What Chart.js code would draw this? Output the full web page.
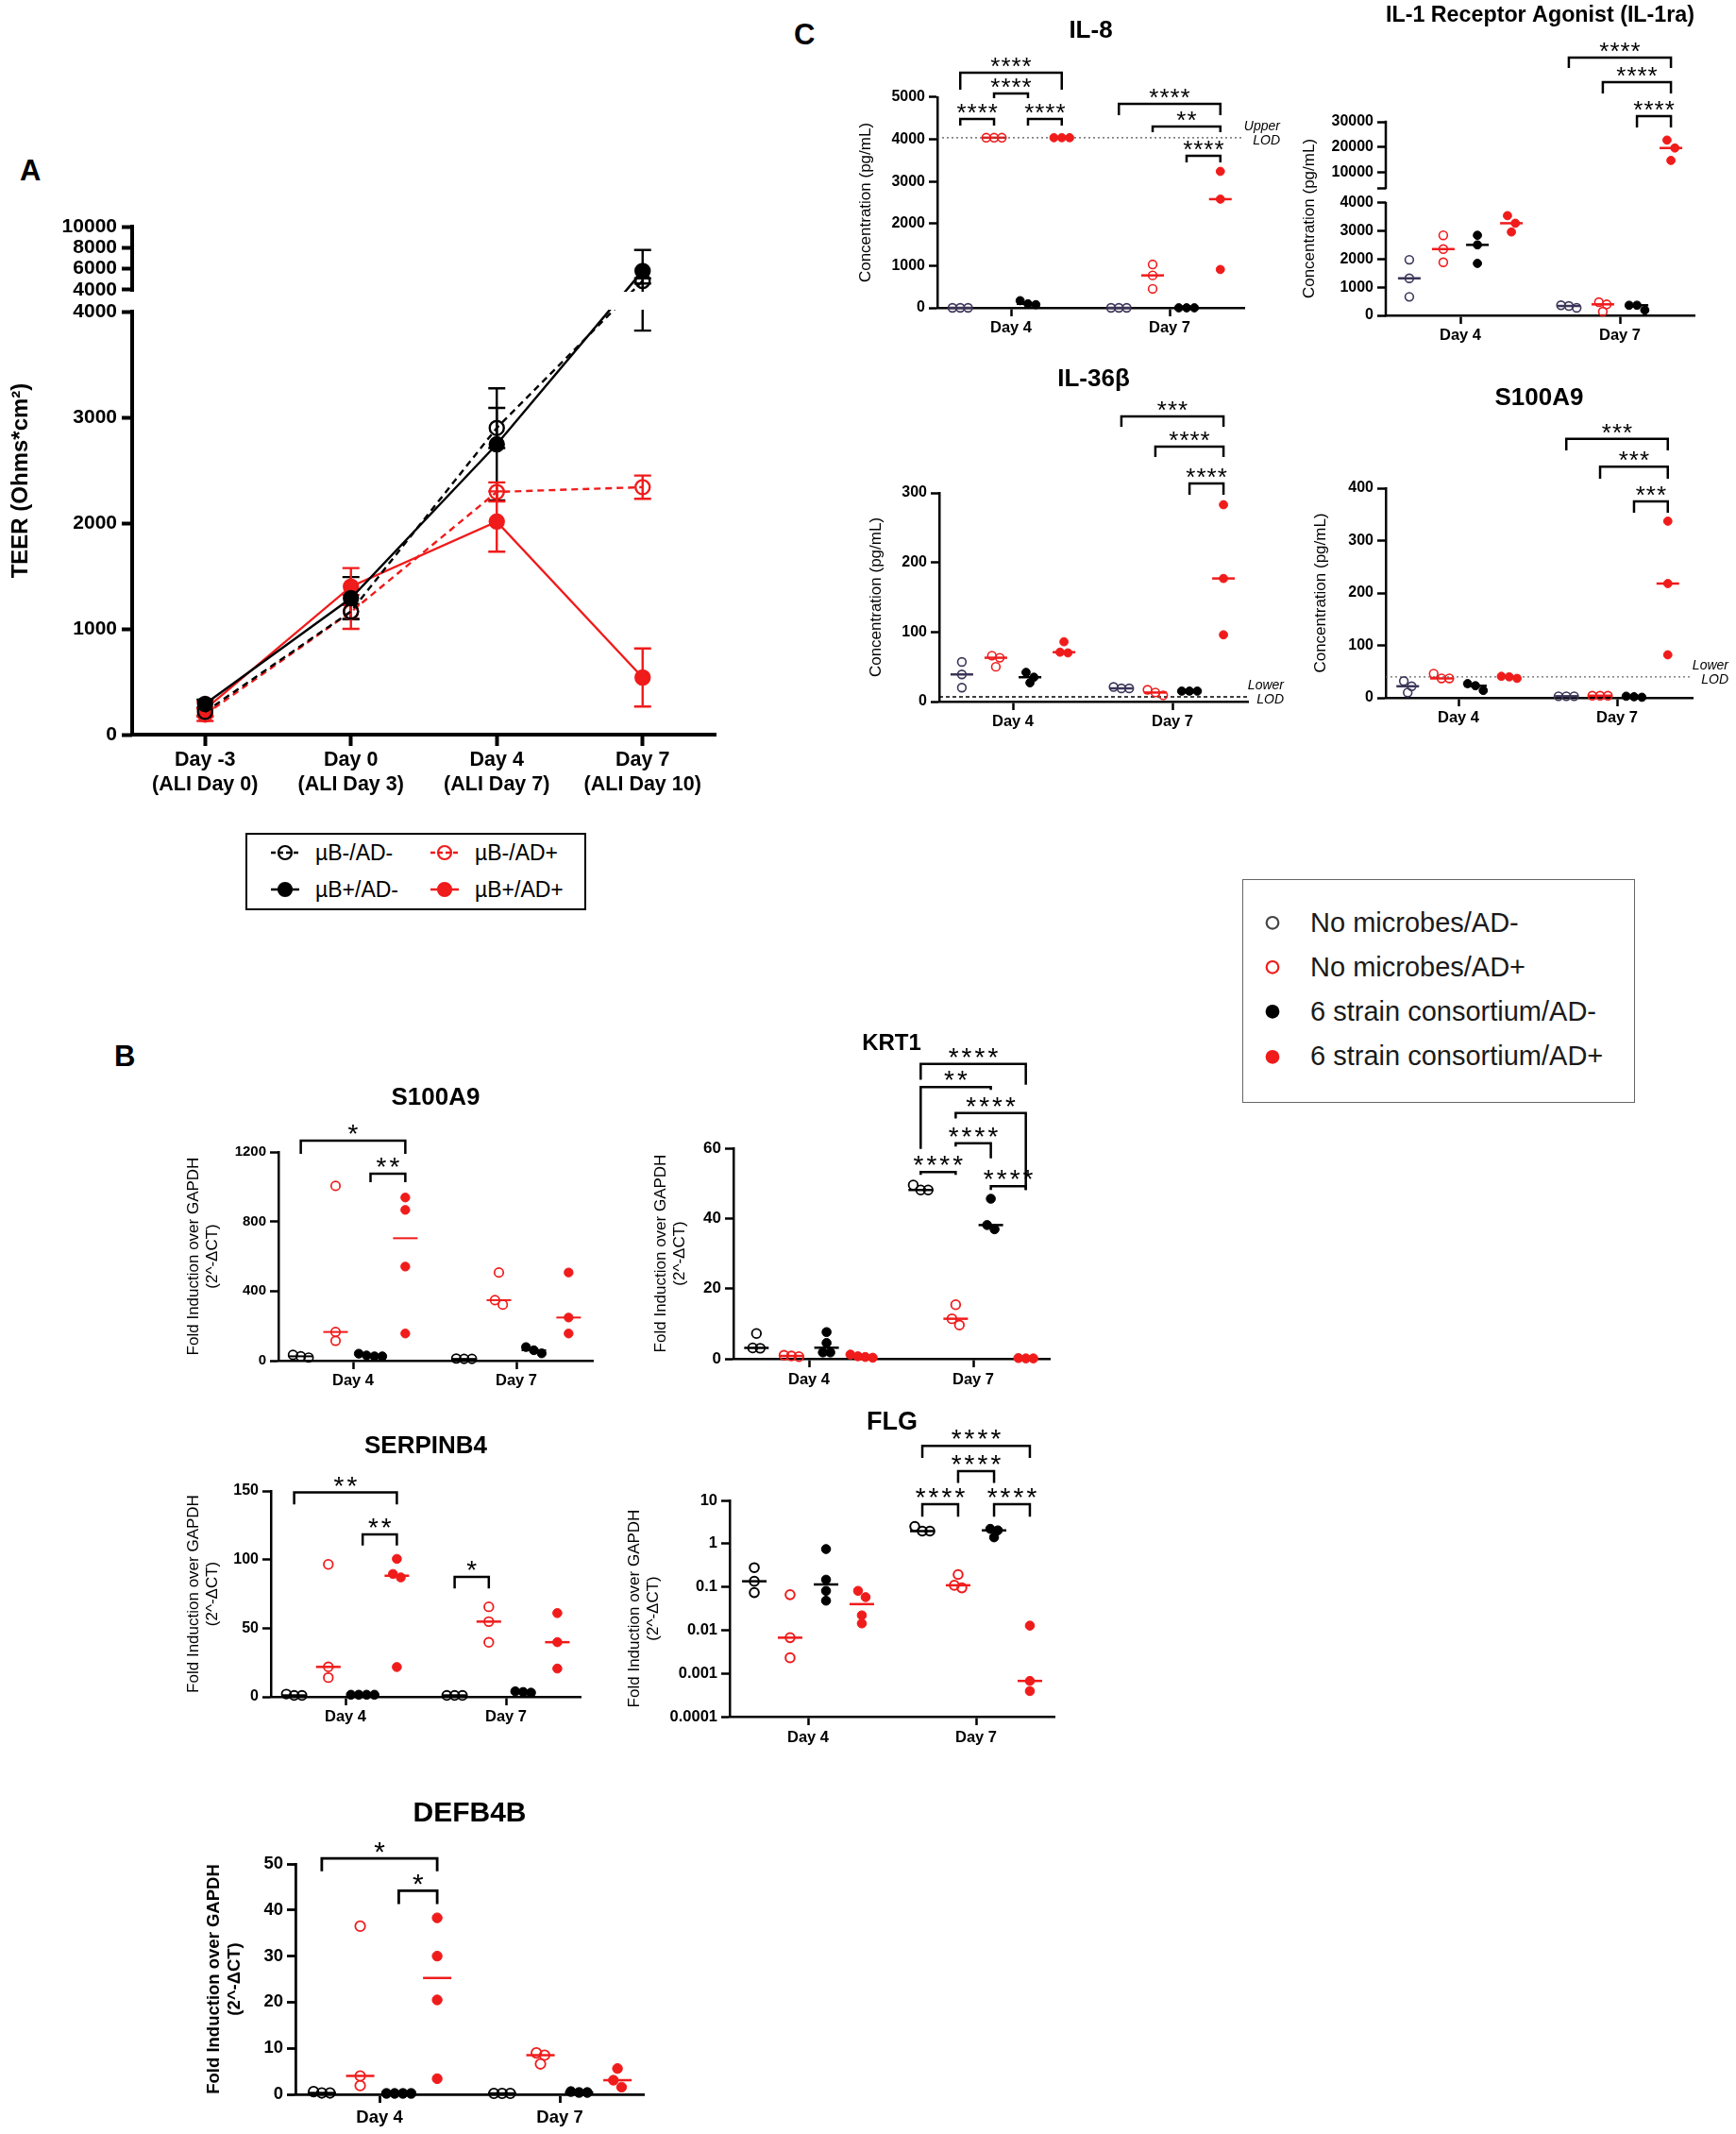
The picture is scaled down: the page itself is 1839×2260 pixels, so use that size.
<!DOCTYPE html>
<html>
<head>
<meta charset="utf-8">
<title>TEER, gene expression and secreted proteins</title>
<script src="https://cdn.jsdelivr.net/npm/chart.js@4.4.1/dist/chart.umd.min.js"></script>
<style>
  html, body { margin: 0; padding: 0; background: #fff; }
  body { position: relative; width: 1839px; height: 2260px; overflow: hidden;
         font-family: "Liberation Sans", Arial, Helvetica, sans-serif; color: #000; }
  canvas { position: absolute; }
  .panel { position: absolute; font-weight: bold; font-size: 31px; line-height: 1; }
  .legend { position: absolute; box-sizing: border-box; }
  .legend .row { position: absolute; display: flex; align-items: center; white-space: nowrap; }
  .legend svg { display: block; flex: none; }
</style>
</head>
<body>
<div class="panel" style="left:21px;top:165px">A</div>
<div class="panel" style="left:121px;top:1103px">B</div>
<div class="panel" style="left:841px;top:21px">C</div>
<div class="legend" id="legendA" style="left:260px;top:882px;width:361px;height:82px;border:2px solid #000;"></div>
<div class="legend" id="legendC" style="left:1316px;top:931px;width:416px;height:237px;border:1.5px solid #666;"></div>
<script>
// ---------- panel A: TEER ----------
const TEER_DAYS = [['Day -3', '(ALI Day 0)'], ['Day 0', '(ALI Day 3)'], ['Day 4', '(ALI Day 7)'], ['Day 7', '(ALI Day 10)']];
const TEER_SERIES = ['µB-/AD-', 'µB+/AD-', 'µB-/AD+', 'µB+/AD+'];
const TEER_NEG_NEG = [215, 1165, 2900, 4850];
const TEER_NEG_NEG_SD = [40, 70, 190, 250];
const TEER_POS_NEG = [290, 1290, 2745, 5800];
const TEER_POS_NEG_SD = [40, 200, 530, 1980];
const TEER_NEG_POS = [190, 1160, 2295, 2340];
const TEER_NEG_POS_SD = [60, 160, 90, 110];
const TEER_POS_POS = [240, 1400, 2015, 540];
const TEER_POS_POS_SD = [70, 175, 285, 275];
const TEER_TICKS = [0, 1000, 2000, 3000, 4000, 4000.001, 6000, 8000, 10000];
const TEER_TICK_LABELS = ['0', '1000', '2000', '3000', '4000', '4000', '6000', '8000', '10000'];

// ---------- panels B and C ----------
const DAYS = ['Day 4', 'Day 7'];
const GROUPS = ['No microbes/AD-', 'No microbes/AD+', '6 strain consortium/AD-', '6 strain consortium/AD+'];

// C: secreted proteins (pg/mL), one list per group
const IL8_D4 = [[0, 0, 0], [4040, 4040, 4040], [75, 170, 95], [4040, 4040, 4040]];
const IL8_D7 = [[0, 0, 0], [1030, 770, 450], [0, 0, 0], [3240, 2580, 910]];
const IL8_TICKS = [0, 1000, 2000, 3000, 4000, 5000];
const IL8_UPPER_LOD = 4040;
const IL8_SIG = [
  [0, 0, 3, 5583, 5179, 5179, '****'],
  [0, 1, 2, 5090, 4978, 4978, '****'],
  [0, 0, 1, 4484, 4327, 4327, '****'],
  [0, 2, 3, 4484, 4327, 4327, '****'],
  [1, 0, 3, 4843, 4574, 4574, '****'],
  [1, 1, 3, 4305, 4170, 4170, '**'],
  [1, 2, 3, 3610, 3453, 3453, '****']
];

const IL1RA_D4 = [[1980, 1320, 660], [2850, 2360, 1890], [2850, 2510, 1850], [3550, 3280, 2970]];
const IL1RA_D7 = [[270, 360, 335], [470, 393, 134], [190, 360, 360], [22800, 19700, 14800]];
const IL1RA_TICKS = [0, 1000, 2000, 3000, 4000, 4000.001, 10000, 20000, 30000];
const IL1RA_TICK_LABELS = ['0', '1000', '2000', '3000', '4000', '', '10000', '20000', '30000'];
const IL1RA_SIG = [
  [1, 0, 3, 55257, 51171, 51171, '****'],
  [1, 1, 3, 45600, 41143, 41143, '****'],
  [1, 2, 3, 32229, 27771, 27771, '****']
];

const IL36B_D4 = [[57, 39, 20], [66, 63, 50], [42, 35, 27], [86, 70, 71]];
const IL36B_D7 = [[19, 21, 19], [9, 17, 13], [15, 15, 15], [283, 177, 96]];
const IL36B_TICKS = [0, 100, 200, 300];
const IL36B_LOWER_LOD = 6.8;
const IL36B_SIG = [
  [1, 0, 3, 410, 395, 395, '***'],
  [1, 1, 3, 366.5, 351.6, 351.6, '****'],
  [1, 2, 3, 313.6, 297.3, 297.3, '****']
];

const S100A9_PROT_D4 = [[32, 22, 10], [46, 37, 37], [14, 27, 23], [37, 41, 40]];
const S100A9_PROT_D7 = [[3, 3, 3], [4, 4, 4], [1, 3, 2], [337, 218, 82]];
const S100A9_PROT_TICKS = [0, 100, 200, 300, 400];
const S100A9_PROT_LOWER_LOD = 40;
const S100A9_PROT_SIG = [
  [1, 0, 3, 494, 472, 472, '***'],
  [1, 1, 3, 441, 418, 418, '***'],
  [1, 2, 3, 375, 353, 353, '***']
];

// B: gene expression, fold induction over GAPDH
const S100A9_MRNA_D4 = [[18, 33, 25], [1005, 165, 114], [25, 40, 25, 30], [938, 867, 541, 156]];
const S100A9_MRNA_D7 = [[10, 12, 10], [507, 322, 348], [42, 78, 60], [507, 248, 156]];
const S100A9_MRNA_TICKS = [0, 400, 800, 1200];
const S100A9_MRNA_SIG = [
  [0, 0, 3, 1265, 1189, 1189, '*'],
  [0, 2, 3, 1075, 1026, 1026, '**']
];

const KRT1_D4 = [[7.2, 3, 3.1], [0.8, 1.0, 0.6], [7.6, 4.5, 1.8, 1.8], [0.3, 1.2, 0.5, 0.7]];
const KRT1_D7 = [[48.1, 49.5, 48.1], [15.4, 9.6, 11.4], [45.6, 36.9, 38.1], [0.1, 0.2, 0.1]];
const KRT1_TICKS = [0, 20, 40, 60];
const KRT1_SIG = [
  [1, 0, 3, 84.0, 79.5, 78.1, '****'],
  [1, 0, 2, 77.4, 59.8, 76.6, '**'],
  [1, 1, 3, 70.0, 68.5, 48.1, '****'],
  [1, 1, 2, 61.4, 60.5, 57.1, '****'],
  [1, 0, 1, 53.2, 52.4, 52.4, '****'],
  [1, 2, 3, 49.2, 48.1, 48.1, '****']
];

const SERPINB4_D4 = [[1, 2, 1], [96.5, 21.8, 14], [1.5, 1.5, 1.5, 1.5], [100.5, 89.5, 87, 21.7]];
const SERPINB4_D7 = [[1, 1, 1], [65.6, 54.8, 39.7], [3, 4, 3.5], [61, 39.8, 20.6]];
const SERPINB4_TICKS = [0, 50, 100, 150];
const SERPINB4_SIG = [
  [0, 0, 3, 148.9, 140.2, 140.2, '**'],
  [0, 2, 3, 118.4, 110.3, 110.3, '**'],
  [1, 0, 1, 87.4, 78.9, 78.9, '*']
];

const FLG_D4 = [[0.279, 0.135, 0.074], [0.066, 0.0067, 0.0023], [0.75, 0.147, 0.081, 0.048], [0.081, 0.058, 0.022, 0.0143]];
const FLG_D7 = [[1.95, 2.5, 1.95], [0.193, 0.095, 0.109], [1.4, 2.2, 2.03], [0.0127, 0.00067, 0.00039]];
const FLG_TICKS = [0.0001, 0.001, 0.01, 0.1, 1, 10];
const FLG_TICK_LABELS = ['0.0001', '0.001', '0.01', '0.1', '1', '10'];
const FLG_SIG = [
  [1, 0, 3, 182, 96.6, 96.6, '****'],
  [1, 1, 2, 47.7, 25.2, 25.2, '****'],
  [1, 0, 1, 8.2, 4.2, 4.2, '****'],
  [1, 2, 3, 8.2, 4.2, 4.2, '****']
];

const DEFB4B_D4 = [[0.3, 0.6, 0.3], [36.5, 4.0, 1.9], [0.2, 0.2, 0.2, 0.2], [38.3, 30.0, 20.5, 3.4]];
const DEFB4B_D7 = [[0.2, 0.2, 0.2], [9.0, 8.5, 6.6], [0.4, 0.6, 0.4], [5.6, 3.07, 1.57]];
const DEFB4B_TICKS = [0, 10, 20, 30, 40, 50];
const DEFB4B_SIG = [
  [0, 0, 3, 51.2, 48.4, 48.4, '*'],
  [0, 2, 3, 44.2, 41.3, 41.3, '*']
];

// ---------- styling ----------
const FONT = '"Liberation Sans", Arial, Helvetica, sans-serif';
Chart.defaults.font.family = FONT;
Chart.defaults.color = '#000';

const RED = '#f01b1b';
const NAVY = '#3c3558';
const BLACK = '#000000';
const C_COLORS = [NAVY, RED, BLACK, RED];
const B_COLORS = [BLACK, RED, BLACK, RED];
const GROUP_OFFSET = [-0.32, -0.107, 0.107, 0.32];
const FOLD_TITLE = ['Fold Induction over GAPDH', '(2^-ΔCT)'];
const CONC_TITLE = 'Concentration (pg/mL)';

const TEER_STYLE = [
  { color: BLACK, open: true, dash: [7, 5] },
  { color: BLACK, open: false, dash: [] },
  { color: RED, open: true, dash: [7, 5] },
  { color: RED, open: false, dash: [] }
];

// y scale with a break: two linear pieces stacked on one axis
class BrokenLinearScale extends Chart.LinearScale {
  static id = 'brokenLinear';
  buildTicks() {
    return this.options.tickValues.map(v => ({ value: v }));
  }
  getPixelForValue(v) {
    if (v === null || v === undefined || isNaN(v)) return NaN;
    const segs = this.options.segments;
    const s = v <= segs[0].to ? segs[0] : segs[1];
    return this.getPixelForDecimal(s.f0 + (v - s.from) / (s.to - s.from) * (s.f1 - s.f0));
  }
  getValueForPixel(p) {
    const d = this.getDecimalForPixel(p);
    const segs = this.options.segments;
    const s = d <= segs[0].f1 ? segs[0] : segs[1];
    return s.from + (d - s.f0) / (s.f1 - s.f0) * (s.to - s.from);
  }
}
Chart.register(BrokenLinearScale);

function median(vals) {
  const s = [...vals].sort((a, b) => a - b);
  const m = Math.floor(s.length / 2);
  return s.length % 2 ? s[m] : (s[m - 1] + s[m]) / 2;
}

function addCanvas(left, top, width, height) {
  const c = document.createElement('canvas');
  c.width = width; c.height = height;
  c.style.left = left + 'px'; c.style.top = top + 'px';
  c.style.width = width + 'px'; c.style.height = height + 'px';
  document.body.appendChild(c);
  return c;
}

function brokenAxisPlugin(lo, hi, width) {
  return {
    id: 'brokenAxis',
    afterDatasetsDraw(chart) {
      const { ctx, chartArea: a, scales: { y } } = chart;
      const yLo = y.getPixelForValue(lo);
      const yHi = y.getPixelForValue(hi);
      ctx.save();
      ctx.fillStyle = '#fff';
      ctx.fillRect(a.left + width, yHi + 2, a.right - a.left, yLo - yHi - 4);
      ctx.strokeStyle = '#000';
      ctx.lineWidth = width;
      ctx.beginPath();
      ctx.moveTo(a.left, a.bottom + width / 2); ctx.lineTo(a.left, yLo - width / 2);
      ctx.moveTo(a.left, yHi + width / 2); ctx.lineTo(a.left, a.top - width / 2);
      ctx.stroke();
      ctx.restore();
    }
  };
}

function medianPlugin(o) {
  return {
    id: 'medianLines',
    beforeDatasetsDraw(chart) {
      const { ctx, scales: { x, y } } = chart;
      ctx.save();
      ctx.lineWidth = o.medianW;
      chart.data.datasets.forEach(ds => {
        const cx = x.getPixelForValue(ds.center);
        const py = y.getPixelForValue(ds.median);
        ctx.strokeStyle = ds.color;
        ctx.beginPath();
        ctx.moveTo(cx - o.medianHalf, py);
        ctx.lineTo(cx + o.medianHalf, py);
        ctx.stroke();
      });
      ctx.restore();
    }
  };
}

function bracketPlugin(o) {
  return {
    id: 'sigBrackets',
    afterDatasetsDraw(chart) {
      const { ctx, scales: { x, y } } = chart;
      ctx.save();
      ctx.strokeStyle = '#000'; ctx.fillStyle = '#000';
      ctx.lineWidth = o.axisW; ctx.lineJoin = 'miter'; ctx.lineCap = 'butt';
      ctx.font = o.starSize + 'px ' + FONT;
      ctx.letterSpacing = o.starGap + 'px';
      ctx.textAlign = 'center'; ctx.textBaseline = 'alphabetic';
      o.sig.forEach(([day, g1, g2, top, legL, legR, stars]) => {
        const x1 = x.getPixelForValue(day + GROUP_OFFSET[g1]);
        const x2 = x.getPixelForValue(day + GROUP_OFFSET[g2]);
        const yt = y.getPixelForValue(top);
        ctx.beginPath();
        ctx.moveTo(x1, y.getPixelForValue(legL));
        ctx.lineTo(x1, yt); ctx.lineTo(x2, yt);
        ctx.lineTo(x2, y.getPixelForValue(legR));
        ctx.stroke();
        const m = ctx.measureText(stars);
        const base = yt - o.starLift + (m.actualBoundingBoxAscent - m.actualBoundingBoxDescent) / 2;
        ctx.fillText(stars, (x1 + x2) / 2 + o.starGap / 2, base);
      });
      ctx.restore();
    }
  };
}

function lodPlugin(o) {
  return {
    id: 'lodLine',
    beforeDatasetsDraw(chart) {
      if (!o.lod) return;
      const { ctx, chartArea: a, scales: { y } } = chart;
      const py = y.getPixelForValue(o.lod.value);
      ctx.save();
      ctx.strokeStyle = o.lod.color; ctx.lineWidth = 1.3; ctx.setLineDash(o.lod.dash);
      ctx.beginPath(); ctx.moveTo(a.left, py); ctx.lineTo(a.right, py); ctx.stroke();
      ctx.setLineDash([]);
      ctx.fillStyle = '#000';
      ctx.font = 'italic 14px ' + FONT;
      ctx.textAlign = 'right'; ctx.textBaseline = 'middle';
      ctx.fillText(o.lod.words[0], a.right + 38, py - 12);
      ctx.fillText(o.lod.words[1], a.right + 38, py + 3);
      ctx.restore();
    }
  };
}

// spread points of one group sideways when they sit on top of each other
function spreadPoints(chart, spacing) {
  const { x, y } = chart.scales;
  chart.data.datasets.forEach(ds => {
    const cx = x.getPixelForValue(ds.center);
    const pts = ds.data.map(p => ({ p, py: y.getPixelForValue(p.y) })).sort((a, b) => a.py - b.py);
    const rows = [];
    pts.forEach(q => {
      const row = rows[rows.length - 1];
      if (row && q.py - row[0].py < spacing * 1.05) row.push(q); else rows.push([q]);
    });
    rows.forEach(row => row.forEach((q, i) => {
      q.p.x = x.getValueForPixel(cx + (i - (row.length - 1) / 2) * spacing);
    }));
  });
  chart.update('none');
}

function yScaleOptions(o, yW) {
  const base = {
    afterFit: s => { s.width = yW; },
    ticks: {
      font: { size: o.tickSize, weight: 'bold' }, color: '#000', padding: 4, autoSkip: false,
      callback: (v, i) => o.tickLabels ? o.tickLabels[i] : String(v)
    },
    grid: { drawOnChartArea: false, tickLength: o.tickLen, tickWidth: o.axisW, tickColor: '#000', color: '#000' },
    border: { display: !o.broken, color: '#000', width: o.axisW },
    title: {
      display: true, text: o.yTitle, color: '#000', padding: 0,
      font: { size: o.yTitleSize, weight: o.yTitleBold ? 'bold' : 'normal', lineHeight: 1.2 }
    }
  };
  if (o.broken) {
    return Object.assign(base, { type: 'brokenLinear', min: o.ymin, max: o.ymax, tickValues: o.ticks, segments: o.broken });
  }
  return Object.assign(base, {
    type: o.log ? 'logarithmic' : 'linear', min: o.ymin, max: o.ymax,
    afterBuildTicks: s => { s.ticks = o.ticks.map(v => ({ value: v })); }
  });
}

function dotPlot(opts) {
  const o = Object.assign({
    axisW: 2.5, tickLen: 9, tickSize: 16, labelSize: 16.5, labelPad: 3, yTitleSize: 17,
    r: 4.4, bw: 1.6, spacing: 8.3, medianW: 2.5, medianHalf: 12,
    starSize: 26, starGap: 1, starLift: 11, xH: 40, rPad: 25, sig: []
  }, opts);
  const [L, T, R, B] = o.rect;
  const lhT = o.titleSize * 1.2;
  const top = Math.max(0, Math.round(o.titleY - lhT / 2 - 2));
  const padTop = o.titleY - lhT / 2 - top;
  const padBottom = T - top - padTop - lhT;
  const left = Math.round(o.yTitleX - o.yTitleSize * 0.6);
  const yW = L - left;
  const canvas = addCanvas(left, top, R + o.rPad - left, B + o.xH - top);
  const unit = o.dayX[1] - o.dayX[0];

  const datasets = [];
  [o.d4, o.d7].forEach((groups, day) => groups.forEach((vals, g) => {
    const color = o.colors[g];
    const open = g < 2;
    datasets.push({
      label: GROUPS[g] + ', ' + DAYS[day],
      data: vals.map(v => ({ x: day + GROUP_OFFSET[g], y: v })),
      center: day + GROUP_OFFSET[g],
      median: median(vals),
      color: color,
      pointRadius: o.r,
      pointBorderWidth: open ? o.bw : 1,
      pointBorderColor: color,
      pointBackgroundColor: open ? 'rgba(0,0,0,0)' : color,
      clip: false
    });
  }));

  const plugins = [medianPlugin(o), lodPlugin(o), bracketPlugin(o)];
  if (o.broken) plugins.push(brokenAxisPlugin(o.breakLo, o.breakHi, o.axisW));

  const chart = new Chart(canvas, {
    type: 'scatter',
    data: { datasets },
    options: {
      responsive: false, animation: false, devicePixelRatio: 1, events: [],
      layout: { padding: { left: 0, right: o.rPad, top: 0, bottom: 0 } },
      plugins: {
        legend: { display: false },
        tooltip: { enabled: false },
        title: {
          display: true, text: o.title, fullSize: false, color: '#000',
          font: { size: o.titleSize, weight: 'bold', lineHeight: 1.2 },
          padding: { top: padTop, bottom: padBottom }
        }
      },
      scales: {
        x: {
          type: 'linear',
          min: (L - o.dayX[0]) / unit,
          max: 1 + (R - o.dayX[1]) / unit,
          afterBuildTicks: s => { s.ticks = DAYS.map((d, i) => ({ value: i })); },
          afterFit: s => { s.height = o.xH; },
          ticks: {
            callback: (v, i) => DAYS[i], font: { size: o.labelSize, weight: 'bold' }, color: '#000',
            padding: o.labelPad, maxRotation: 0, autoSkip: false
          },
          grid: { drawOnChartArea: false, tickLength: o.tickLen, tickWidth: o.axisW, tickColor: '#000', color: '#000' },
          border: { color: '#000', width: o.axisW }
        },
        y: yScaleOptions(o, yW)
      }
    },
    plugins
  });
  spreadPoints(chart, o.spacing);
  return chart;
}

// ---------- panel A chart ----------
function teerChart() {
  const L = 140, T = 240, R = 758, B = 778;
  const left = 8, top = 210, rPad = 20, xH = 75;
  const canvas = addCanvas(left, top, R + rPad - left, B + xH - top);
  const means = [TEER_NEG_NEG, TEER_POS_NEG, TEER_NEG_POS, TEER_POS_POS];
  const sds = [TEER_NEG_NEG_SD, TEER_POS_NEG_SD, TEER_NEG_POS_SD, TEER_POS_POS_SD];
  const datasets = TEER_SERIES.map((name, s) => {
    const st = TEER_STYLE[s];
    return {
      label: name,
      data: means[s].map((v, i) => ({ x: i, y: v })),
      errors: sds[s],
      showLine: true,
      borderColor: st.color,
      borderWidth: 2.4,
      borderDash: st.dash,
      pointRadius: 7.5,
      pointBorderWidth: 2.4,
      pointBorderColor: st.color,
      pointBackgroundColor: st.open ? 'rgba(0,0,0,0)' : st.color,
      clip: false
    };
  });
  const errorBars = {
    id: 'errorBars',
    beforeDatasetsDraw(chart) {
      const { ctx, scales: { x, y } } = chart;
      ctx.save();
      ctx.lineWidth = 2.4;
      chart.data.datasets.forEach(ds => {
        ctx.strokeStyle = ds.borderColor;
        ds.data.forEach((p, i) => {
          const sd = ds.errors[i];
          const px = x.getPixelForValue(p.x);
          const y1 = y.getPixelForValue(p.y - sd);
          const y2 = y.getPixelForValue(p.y + sd);
          ctx.beginPath();
          ctx.moveTo(px, y1); ctx.lineTo(px, y2);
          ctx.moveTo(px - 9, y1); ctx.lineTo(px + 9, y1);
          ctx.moveTo(px - 9, y2); ctx.lineTo(px + 9, y2);
          ctx.stroke();
        });
      });
      ctx.restore();
    }
  };
  new Chart(canvas, {
    type: 'scatter',
    data: { datasets },
    options: {
      responsive: false, animation: false, devicePixelRatio: 1, events: [],
      layout: { padding: { left: 0, right: rPad, top: T - top, bottom: 0 } },
      plugins: { legend: { display: false }, tooltip: { enabled: false } },
      scales: {
        x: {
          type: 'linear', min: -0.5, max: 3.5,
          afterBuildTicks: s => { s.ticks = TEER_DAYS.map((d, i) => ({ value: i })); },
          afterFit: s => { s.height = xH; },
          ticks: {
            callback: (v, i) => TEER_DAYS[i], font: { size: 21.5, weight: 'bold', lineHeight: 1.17 },
            color: '#000', padding: 3, maxRotation: 0, autoSkip: false
          },
          grid: { drawOnChartArea: false, tickLength: 12, tickWidth: 4, tickColor: '#000', color: '#000' },
          border: { color: '#000', width: 4 }
        },
        y: {
          type: 'brokenLinear', min: 0, max: 10000,
          tickValues: TEER_TICKS,
          segments: [{ from: 0, to: 4000, f0: 0, f1: 0.8327 }, { from: 4000, to: 10000, f0: 0.8755, f1: 1 }],
          afterFit: s => { s.width = L - left; },
          ticks: {
            callback: (v, i) => TEER_TICK_LABELS[i], font: { size: 21, weight: 'bold' },
            color: '#000', padding: 5, autoSkip: false
          },
          grid: { drawOnChartArea: false, tickLength: 11, tickWidth: 4, tickColor: '#000', color: '#000' },
          border: { display: false },
          title: {
            display: true, text: 'TEER (Ohms*cm²)', color: '#000', padding: 0,
            font: { size: 24, weight: 'bold', lineHeight: 1.2 }
          }
        }
      }
    },
    plugins: [errorBars, brokenAxisPlugin(4000, 4000.001, 4)]
  });
}

// ---------- legends ----------
function svgMarker(w, color, open, dash, r, line) {
  const h = 2 * r + 6, cy = h / 2;
  let s = '<svg width="' + w + '" height="' + h + '" viewBox="0 0 ' + w + ' ' + h + '">';
  if (line) {
    s += '<line x1="0" y1="' + cy + '" x2="' + w + '" y2="' + cy + '" stroke="' + color +
         '" stroke-width="2.5"' + (dash ? ' stroke-dasharray="5 3"' : '') + '/>';
  }
  s += '<circle cx="' + (w / 2) + '" cy="' + cy + '" r="' + r + '" fill="' + (open ? 'none' : color) +
       '" stroke="' + color + '" stroke-width="2.2"/>';
  return s + '</svg>';
}

function buildLegends() {
  const boxA = document.getElementById('legendA');
  TEER_SERIES.forEach((name, i) => {
    const st = TEER_STYLE[i];
    const col = i >= 2 ? 1 : 0, row = i % 2;
    const el = document.createElement('div');
    el.className = 'row';
    el.style.left = (col ? 194 : 25) + 'px';
    el.style.top = ((row ? 58 : 19) - 14) + 'px';
    el.style.height = '28px';
    el.style.fontSize = '23px';
    el.innerHTML = svgMarker(30, st.color, st.open, st.dash.length > 0, 7, true) +
      '<span style="margin-left:17px">' + name + '</span>';
    boxA.appendChild(el);
  });

  const boxC = document.getElementById('legendC');
  const markers = [
    { color: '#444', open: true }, { color: RED, open: true },
    { color: BLACK, open: false }, { color: RED, open: false }
  ];
  GROUPS.forEach((name, i) => {
    const el = document.createElement('div');
    el.className = 'row';
    el.style.left = '21px';
    el.style.top = (45 + i * 47.3 - 18) + 'px';
    el.style.height = '36px';
    el.style.fontSize = '29px';
    el.style.color = '#1a1a1a';
    el.innerHTML = svgMarker(20, markers[i].color, markers[i].open, false, 6.3, false) +
      '<span style="margin-left:30px">' + name + '</span>';
    boxC.appendChild(el);
  });
}

// ---------- draw everything ----------
teerChart();
buildLegends();

dotPlot({
  title: 'IL-8', titleY: 33, titleSize: 26,
  rect: [993, 103, 1318, 326], dayX: [1071, 1239],
  yTitle: CONC_TITLE, yTitleX: 917,
  ymin: 0, ymax: 5000, ticks: IL8_TICKS,
  d4: IL8_D4, d7: IL8_D7, colors: C_COLORS, sig: IL8_SIG,
  lod: { value: IL8_UPPER_LOD, words: ['Upper', 'LOD'], dash: [2, 3], color: '#555' },
  rPad: 50
});

dotPlot({
  title: 'IL-1 Receptor Agonist (IL-1ra)', titleY: 16, titleSize: 24,
  rect: [1468, 129, 1795, 334], dayX: [1547, 1716],
  yTitle: CONC_TITLE, yTitleX: 1387,
  ymin: 0, ymax: 30000, ticks: IL1RA_TICKS, tickLabels: IL1RA_TICK_LABELS,
  broken: [{ from: 0, to: 4000, f0: 0, f1: 0.5805 }, { from: 4000, to: 30000, f0: 0.6585, f1: 1 }],
  breakLo: 4000, breakHi: 4000.001,
  d4: IL1RA_D4, d7: IL1RA_D7, colors: C_COLORS, sig: IL1RA_SIG,
  rPad: 30
});

dotPlot({
  title: 'IL-36β', titleY: 402, titleSize: 26,
  rect: [995, 522, 1322, 743], dayX: [1073, 1242],
  yTitle: CONC_TITLE, yTitleX: 928,
  ymin: 0, ymax: 300, ticks: IL36B_TICKS,
  d4: IL36B_D4, d7: IL36B_D7, colors: C_COLORS, sig: IL36B_SIG,
  lod: { value: IL36B_LOWER_LOD, words: ['Lower', 'LOD'], dash: [4, 3], color: '#000' },
  rPad: 45
});

dotPlot({
  title: 'S100A9', titleY: 422, titleSize: 26,
  rect: [1468, 517, 1793, 739], dayX: [1545, 1713],
  yTitle: CONC_TITLE, yTitleX: 1399,
  ymin: 0, ymax: 400, ticks: S100A9_PROT_TICKS,
  d4: S100A9_PROT_D4, d7: S100A9_PROT_D7, colors: C_COLORS, sig: S100A9_PROT_SIG,
  lod: { value: S100A9_PROT_LOWER_LOD, words: ['Lower', 'LOD'], dash: [2, 3], color: '#666' },
  rPad: 44
});

dotPlot({
  title: 'S100A9', titleY: 1163, titleSize: 26,
  rect: [295, 1220, 628, 1441], dayX: [374, 547],
  yTitle: FOLD_TITLE, yTitleX: 205,
  ymin: 0, ymax: 1200, ticks: S100A9_MRNA_TICKS, tickSize: 15,
  d4: S100A9_MRNA_D4, d7: S100A9_MRNA_D7, colors: B_COLORS, sig: S100A9_MRNA_SIG,
  r: 4.7, bw: 1.7, medianW: 2, medianHalf: 13, starSize: 28, starGap: 3, starLift: 12
});

dotPlot({
  title: 'KRT1', titleY: 1105, titleSize: 24,
  rect: [777, 1216, 1112, 1439], dayX: [857, 1031],
  yTitle: FOLD_TITLE, yTitleX: 700,
  ymin: 0, ymax: 60, ticks: KRT1_TICKS, tickSize: 17, labelPad: 4,
  d4: KRT1_D4, d7: KRT1_D7, colors: B_COLORS, sig: KRT1_SIG,
  r: 4.8, bw: 1.8, spacing: 7.9, medianHalf: 13, starSize: 28, starGap: 3, starLift: 12
});

dotPlot({
  title: 'SERPINB4', titleY: 1532, titleSize: 26,
  rect: [287, 1579, 615, 1797], dayX: [366, 536],
  yTitle: FOLD_TITLE, yTitleX: 205,
  ymin: 0, ymax: 150, ticks: SERPINB4_TICKS,
  d4: SERPINB4_D4, d7: SERPINB4_D7, colors: B_COLORS, sig: SERPINB4_SIG,
  r: 4.8, bw: 1.8, medianHalf: 13, starSize: 28, starGap: 3, starLift: 12
});

dotPlot({
  title: 'FLG', titleY: 1507, titleSize: 27,
  rect: [773, 1589, 1117, 1818], dayX: [856, 1034],
  yTitle: FOLD_TITLE, yTitleX: 672,
  log: true, ymin: 0.0001, ymax: 10, ticks: FLG_TICKS, tickLabels: FLG_TICK_LABELS, tickSize: 16.5, labelPad: 4,
  d4: FLG_D4, d7: FLG_D7, colors: B_COLORS, sig: FLG_SIG,
  r: 4.8, bw: 2, spacing: 8, medianHalf: 13, starSize: 28, starGap: 3, starLift: 12
});

dotPlot({
  title: 'DEFB4B', titleY: 1921, titleSize: 30,
  rect: [313, 1974, 682, 2218], dayX: [402, 593],
  yTitle: FOLD_TITLE, yTitleX: 227, yTitleSize: 18.5, yTitleBold: true,
  ymin: 0, ymax: 50, ticks: DEFB4B_TICKS, tickSize: 18.5, labelSize: 18.5, labelPad: 5,
  d4: DEFB4B_D4, d7: DEFB4B_D7, colors: B_COLORS, sig: DEFB4B_SIG,
  axisW: 2.8, r: 5.2, bw: 1.8, spacing: 8.7, medianHalf: 15, starSize: 30, starGap: 3, starLift: 12,
  xH: 42
});
</script>
</body>
</html>
